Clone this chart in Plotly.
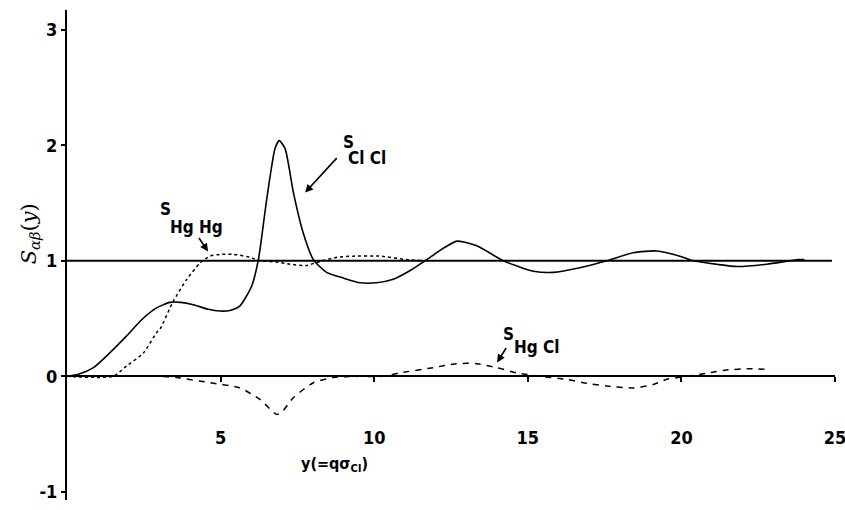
import plotly.graph_objects as go

# S_ClCl (solid)
x_clcl = [0, 0.4, 0.86, 1.40, 1.94, 2.43, 2.9, 3.35, 3.7, 4.11, 4.6, 4.98, 5.3, 5.63, 6.01, 6.23, 6.5, 6.77, 6.91, 7.10, 7.37, 7.69, 8.02, 8.45, 9.0, 9.54, 10.08, 10.62, 11.2, 11.71, 12.2, 12.7, 13.34, 14.2, 14.7, 15.18, 15.83, 16.7, 17.57, 18.43, 19.2, 19.95, 20.39, 21.15, 21.8, 22.78, 23.8, 24.0]
y_clcl = [0, 0.02, 0.075, 0.205, 0.35, 0.49, 0.59, 0.64, 0.64, 0.62, 0.58, 0.565, 0.57, 0.61, 0.78, 1.01, 1.53, 1.97, 2.04, 1.97, 1.59, 1.24, 1.01, 0.90, 0.85, 0.81, 0.81, 0.84, 0.92, 1.01, 1.10, 1.17, 1.13, 1.0, 0.95, 0.91, 0.90, 0.94, 1.0, 1.07, 1.085, 1.04, 1.0, 0.97, 0.95, 0.97, 1.01, 1.01]

# S_HgHg (dotted)
x_hghg = [0, 1.5, 1.94, 2.48, 2.92, 3.03, 3.46, 3.9, 4.33, 4.65, 5.0, 5.41, 5.96, 6.28, 6.8, 7.26, 7.8, 8.3, 8.8, 9.32, 10.19, 11.06, 11.6]
y_hghg = [0, 0, 0.09, 0.2, 0.38, 0.41, 0.65, 0.84, 0.98, 1.04, 1.055, 1.056, 1.03, 1.0, 0.99, 0.97, 0.96, 1.0, 1.03, 1.04, 1.04, 1.01, 1.0]

# S_HgCl (dashed)
x_hgcl = [0, 3.0, 3.57, 4.65, 5.63, 6.28, 6.83, 6.99, 7.37, 8.02, 8.67, 9.5, 10.3, 10.84, 11.92, 12.68, 13.34, 13.99, 14.64, 15.4, 16.27, 16.92, 17.57, 18.43, 19.09, 19.52, 20.17, 20.82, 21.47, 22.23, 22.88]
y_hgcl = [0, 0, -0.01, -0.055, -0.1, -0.2, -0.33, -0.31, -0.185, -0.055, -0.01, 0, 0.0, 0.03, 0.075, 0.11, 0.11, 0.075, 0.03, 0.0, -0.026, -0.06, -0.084, -0.1, -0.07, -0.026, 0.0, 0.026, 0.055, 0.066, 0.06]

# reference line S = 1
x_one = [0, 24.9]
y_one = [1, 1]

x_ticks = [5, 10, 15, 20, 25]
y_ticks = [-1, 0, 1, 2, 3]

fig = go.Figure()
fig.add_trace(go.Scatter(x=x_one, y=y_one, mode="lines", line=dict(color="black", width=2)))
fig.add_trace(go.Scatter(x=x_hghg, y=y_hghg, mode="lines", line=dict(color="black", width=1.5, dash="3px,3px", shape="spline", smoothing=0.6)))
fig.add_trace(go.Scatter(x=x_hgcl, y=y_hgcl, mode="lines", line=dict(color="black", width=1.5, dash="6px,6px", shape="spline", smoothing=0.6)))
fig.add_trace(go.Scatter(x=x_clcl, y=y_clcl, mode="lines", line=dict(color="black", width=1.6, shape="spline", smoothing=0.6)))

FAM = "DejaVu Sans Condensed, DejaVu Sans, sans-serif"
tickfont = dict(family=FAM, size=18, color="black", weight="bold")
lbl = dict(family=FAM, size=17, color="black", weight="bold")

fig.update_layout(
    width=845, height=510,
    margin=dict(l=67, r=10, t=10, b=10),
    paper_bgcolor="white", plot_bgcolor="white",
    showlegend=False,
    xaxis=dict(range=[0, 25], tickvals=x_ticks, ticktext=[str(v) for v in x_ticks],
               showgrid=False, zeroline=False, showline=True, linecolor="black", linewidth=2,
               ticks="outside", ticklen=5, tickwidth=1.5, tickcolor="black", automargin=False,
               ticklabeloverflow="allow",
               anchor="free", position=1.07 / 4.24, ticklabelstandoff=40, tickfont=tickfont),
    yaxis=dict(range=[-1.07, 3.17], tickvals=y_ticks, ticktext=[str(v) for v in y_ticks],
               showgrid=False, zeroline=False, showline=True, linecolor="black", linewidth=2,
               ticks="outside", ticklen=4, tickwidth=1.5, tickcolor="black", automargin=False,
               tickfont=tickfont),
)

ann = []
# labels
ann.append(dict(x=9.15, y=2.03, text="S", showarrow=False, font=lbl))
ann.append(dict(x=9.77, y=1.89, text="Cl Cl", showarrow=False, font=lbl))
ann.append(dict(x=3.19, y=1.45, text="S", showarrow=False, font=lbl))
ann.append(dict(x=4.23, y=1.29, text="Hg Hg", showarrow=False, font=lbl))
ann.append(dict(x=14.36, y=0.37, text="S", showarrow=False, font=lbl))
ann.append(dict(x=15.3, y=0.25, text="Hg Cl", showarrow=False, font=lbl))
# arrows
for (tx, ty, axp, ayp) in [(7.75, 1.59, 33, -36), (4.59, 1.08, -10, -15), (14.0, 0.12, 10, -16)]:
    ann.append(dict(x=tx, y=ty, ax=axp, ay=ayp, text="", showarrow=True, arrowhead=2,
                    arrowsize=1, arrowwidth=1.6, arrowcolor="black"))
# axis titles
ann.append(dict(x=8.72, y=-0.76, text="y(=qσ<sub>Cl</sub>)", showarrow=False,
                font=dict(family=FAM, size=16, color="black", weight="bold")))
ann.append(dict(xref="paper", x=-0.048, xanchor="center", y=1.23, text="<i>S</i><sub><i>αβ</i></sub>(<i>y</i>)",
                showarrow=False, textangle=-90,
                font=dict(family="DejaVu Serif, serif", size=21, color="black")))
fig.update_layout(annotations=ann)

fig.write_html("out.html", config={"displayModeBar": False},
               post_script="document.body.style.margin='0';document.body.style.padding='0';")
